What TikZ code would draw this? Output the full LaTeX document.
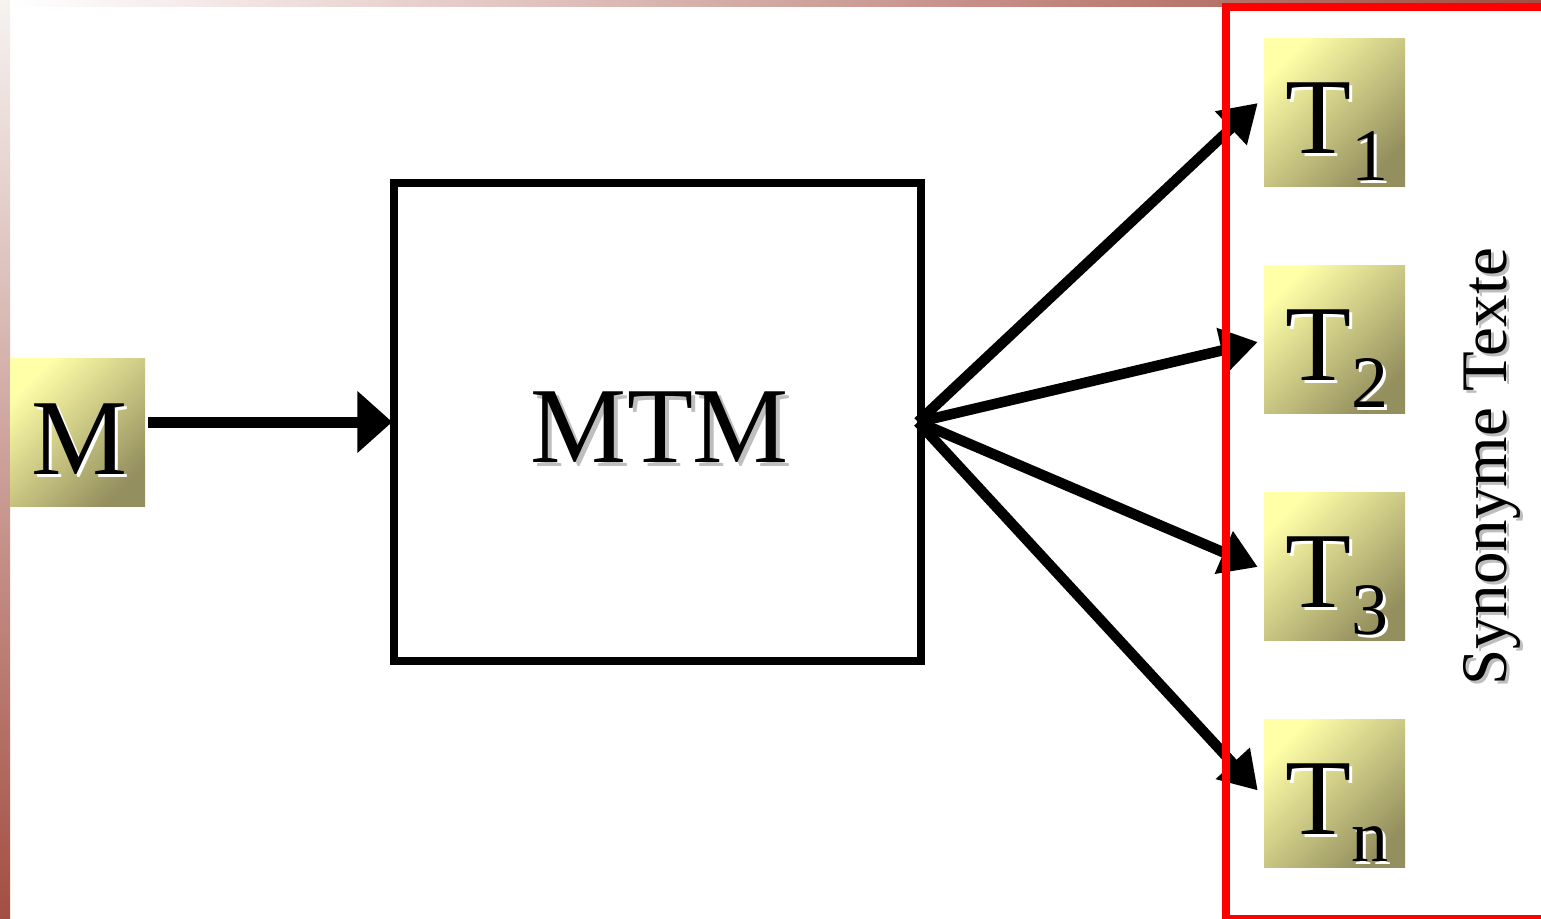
\documentclass[tikz,border=0pt]{standalone}
\usepackage{fontspec}
\setmainfont{Liberation Serif}
\usetikzlibrary{arrows.meta,calc}
\definecolor{boxlight}{RGB}{255,255,168}
\definecolor{boxdark}{RGB}{148,143,94}
\definecolor{stripdark}{RGB}{163,78,66}
\definecolor{striplight}{RGB}{246,243,241}
\definecolor{shadowgrey}{RGB}{190,190,190}
\newcommand\shadowed[4]{\makebox[0pt][l]{\kern#2\raisebox{#3}{\color{#1}#4}}#4}
\begin{document}
\begin{tikzpicture}[x=1pt,y=-1pt,
  termbox/.style={draw=none, minimum width=141pt, minimum height=148pt, inner sep=0pt,
    top color=boxlight, bottom color=boxdark, shading angle=45},
  bigtext/.style={font=\fontsize{108}{108}\selectfont, inner sep=0pt, anchor=base west},
  fanarrow/.style={line width=10.5pt, -{Triangle[length=37pt,width=44pt]}},
]
\useasboundingbox (0,0) rectangle (1541,918);
\fill[white] (0,0) rectangle (1541,918);
% decorative strips
\shade[top color=striplight, bottom color=stripdark] (0,0) rectangle (10,918);
\shade[left color=white, right color=stripdark] (10,0) rectangle (1541,6);

% input term
\node[termbox, minimum width=135pt] (M) at (77.5,432) {};
\node[bigtext] (Mtext) at (31,474) {\shadowed{white}{3pt}{-3pt}{M}};

% MTM box
\node[draw, line width=8pt, minimum width=527pt, minimum height=478pt, inner sep=0pt,
  text height=100pt, text depth=20pt,
  font=\fontsize{108}{108}\selectfont] (MTM) at (657.75,422)
  {\kern4.5pt\shadowed{shadowgrey}{4pt}{-4pt}{MTM}};

% output terms
\node[termbox] (T1) at (1334.5,112) {};
\node[termbox] (T2) at (1334.5,339) {};
\node[termbox] (T3) at (1334.5,566) {};
\node[termbox] (Tn) at (1334.5,793.5) {};
\node[bigtext] (T1text) at (1285,153) {\shadowed{white}{3pt}{-3pt}{T}\raisebox{-27pt}{\fontsize{74}{74}\selectfont\shadowed{white}{3pt}{-3pt}{1}}};
\node[bigtext] (T2text) at (1285,380) {\shadowed{white}{3pt}{-3pt}{T}\raisebox{-27pt}{\fontsize{74}{74}\selectfont\shadowed{white}{3pt}{-3pt}{2}}};
\node[bigtext] (T3text) at (1285,607) {\shadowed{white}{3pt}{-3pt}{T}\raisebox{-27pt}{\fontsize{74}{74}\selectfont\shadowed{white}{3pt}{-3pt}{3}}};
\node[bigtext] (Tntext) at (1285,834) {\shadowed{white}{3pt}{-3pt}{T}\raisebox{-27pt}{\fontsize{74}{74}\selectfont\shadowed{white}{3pt}{-3pt}{n}}};

% arrows
\draw[line width=11pt, -{Triangle[length=35pt,width=60pt]}] ([xshift=3pt]M.east |- MTM.west) -- ([xshift=2pt]MTM.west);
\coordinate (fan) at (918,422);
\draw[fanarrow] (fan) -- ($(T1.west)+(-6,-9)$);
\draw[fanarrow] (fan) -- ($(T2.west)+(-6,3)$);
\draw[fanarrow] (fan) -- ($(T3.west)+(-6,1)$);
\draw[fanarrow] (fan) -- ($(Tn.west)+(-6,-3)$);

% group frame
\draw[red, line width=8pt] (1226,7) rectangle (1565,919);
\node[font=\fontsize{65}{65}\selectfont, rotate=90, anchor=base west, inner sep=0pt] (syn) at (1506,686)
  {\shadowed{shadowgrey}{-3pt}{-3pt}{Synonyme Texte}};
\end{tikzpicture}
\end{document}
